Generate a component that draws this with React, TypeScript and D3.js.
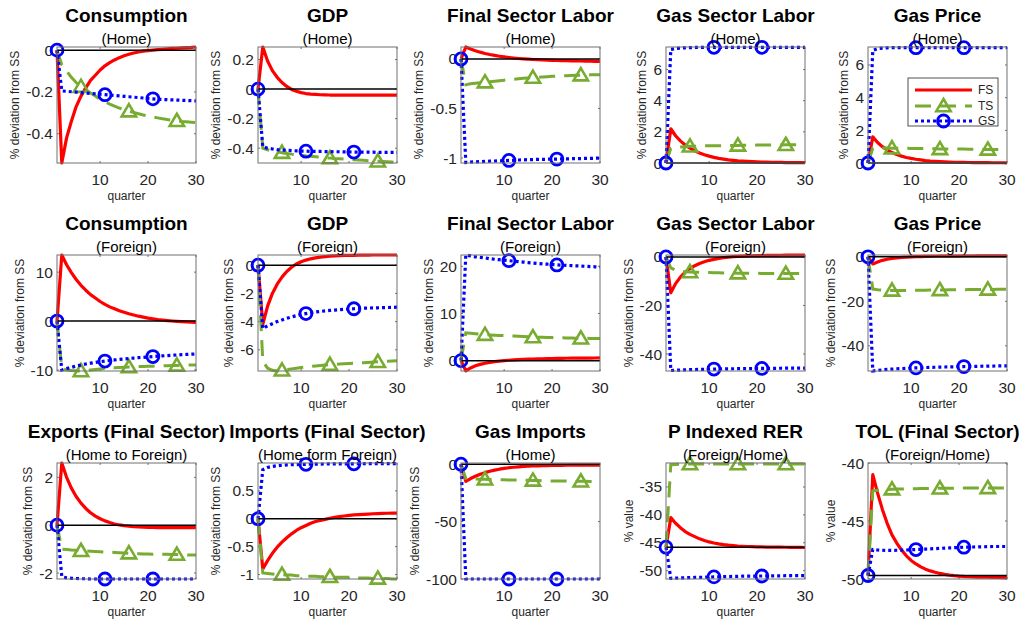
import React from 'react';
import * as d3 from 'd3';

// ---------- data ----------
const quarters = d3.range(1, 31);
const xTicks = [10, 20, 30];
const blueMarkerQuarters = [1, 11, 21];
const greenMarkerQuarters = [6, 16, 26];
const legendLabels = ['FS', 'TS', 'GS'];

const consHomeFS = [0, -0.54, -0.42, -0.34, -0.27, -0.22, -0.18, -0.145, -0.12, -0.095, -0.075, -0.06, -0.047, -0.036, -0.027, -0.02, -0.014, -0.009, -0.005, -0.002, 0.0, 0.002, 0.004, 0.006, 0.008, 0.009, 0.011, 0.012, 0.013, 0.015];
const consHomeTS = [0, -0.07, -0.1, -0.13, -0.155, -0.175, -0.19, -0.205, -0.22, -0.235, -0.248, -0.258, -0.268, -0.277, -0.285, -0.292, -0.298, -0.304, -0.31, -0.315, -0.32, -0.324, -0.328, -0.332, -0.335, -0.338, -0.341, -0.343, -0.345, -0.347];
const consHomeGS = [0, -0.195, -0.197, -0.199, -0.201, -0.203, -0.205, -0.207, -0.209, -0.211, -0.213, -0.215, -0.217, -0.219, -0.221, -0.223, -0.225, -0.227, -0.229, -0.231, -0.233, -0.235, -0.236, -0.237, -0.238, -0.239, -0.24, -0.241, -0.242, -0.243];

const gdpHomeFS = [0, 0.285, 0.19, 0.125, 0.08, 0.045, 0.018, -0.002, -0.015, -0.024, -0.03, -0.034, -0.036, -0.038, -0.039, -0.04, -0.04, -0.04, -0.041, -0.041, -0.041, -0.041, -0.041, -0.041, -0.041, -0.041, -0.041, -0.041, -0.041, -0.041];
const gdpHomeTS = [0, -0.4, -0.41, -0.42, -0.425, -0.43, -0.435, -0.44, -0.444, -0.448, -0.452, -0.455, -0.458, -0.461, -0.464, -0.467, -0.47, -0.472, -0.474, -0.476, -0.478, -0.48, -0.482, -0.484, -0.486, -0.488, -0.49, -0.492, -0.494, -0.496];
const gdpHomeGS = [0, -0.39, -0.4, -0.405, -0.41, -0.412, -0.414, -0.416, -0.418, -0.419, -0.42, -0.421, -0.422, -0.422, -0.423, -0.423, -0.424, -0.424, -0.425, -0.425, -0.426, -0.426, -0.427, -0.427, -0.427, -0.428, -0.428, -0.428, -0.428, -0.428];

const labFinHomeFS = [0, 0.12, 0.1, 0.083, 0.068, 0.055, 0.044, 0.035, 0.027, 0.02, 0.014, 0.009, 0.004, 0.0, -0.003, -0.006, -0.008, -0.01, -0.012, -0.014, -0.016, -0.017, -0.018, -0.019, -0.02, -0.021, -0.022, -0.023, -0.024, -0.025];
const labFinHomeTS = [0, -0.26, -0.25, -0.245, -0.24, -0.235, -0.23, -0.225, -0.22, -0.215, -0.21, -0.205, -0.2, -0.196, -0.192, -0.188, -0.185, -0.182, -0.179, -0.176, -0.174, -0.172, -0.17, -0.168, -0.166, -0.164, -0.162, -0.161, -0.16, -0.159];
const labFinHomeGS = [0, -1.045, -1.04, -1.038, -1.036, -1.034, -1.032, -1.03, -1.028, -1.026, -1.024, -1.022, -1.02, -1.018, -1.016, -1.015, -1.014, -1.013, -1.012, -1.011, -1.01, -1.009, -1.008, -1.007, -1.006, -1.005, -1.004, -1.003, -1.002, -1.0];

const labGasHomeFS = [0, 2.2, 1.75, 1.42, 1.16, 0.95, 0.78, 0.64, 0.53, 0.44, 0.36, 0.3, 0.25, 0.2, 0.17, 0.14, 0.12, 0.1, 0.085, 0.07, 0.06, 0.05, 0.045, 0.04, 0.035, 0.03, 0.028, 0.025, 0.022, 0.02];
const labGasHomeTS = [0, 0.95, 1.0, 1.03, 1.05, 1.07, 1.08, 1.09, 1.1, 1.1, 1.11, 1.11, 1.12, 1.12, 1.13, 1.13, 1.14, 1.14, 1.14, 1.15, 1.15, 1.15, 1.16, 1.16, 1.16, 1.17, 1.17, 1.17, 1.18, 1.18];
const labGasHomeGS = [0, 7.3, 7.35, 7.38, 7.4, 7.41, 7.42, 7.42, 7.43, 7.43, 7.43, 7.43, 7.43, 7.43, 7.43, 7.43, 7.43, 7.43, 7.43, 7.43, 7.43, 7.43, 7.43, 7.43, 7.43, 7.43, 7.43, 7.43, 7.43, 7.43];

const gasPriceHomeFS = [0, 1.6, 1.25, 1.0, 0.8, 0.64, 0.52, 0.42, 0.34, 0.28, 0.23, 0.19, 0.15, 0.12, 0.1, 0.08, 0.065, 0.055, 0.045, 0.04, 0.035, 0.03, 0.025, 0.022, 0.02, 0.018, 0.016, 0.015, 0.014, 0.013];
const gasPriceHomeTS = [0, 0.9, 0.92, 0.92, 0.92, 0.91, 0.91, 0.9, 0.9, 0.89, 0.89, 0.88, 0.88, 0.87, 0.87, 0.86, 0.86, 0.86, 0.85, 0.85, 0.85, 0.84, 0.84, 0.84, 0.83, 0.83, 0.83, 0.82, 0.82, 0.82];
const gasPriceHomeGS = [0, 6.9, 7.0, 7.03, 7.05, 7.06, 7.06, 7.06, 7.06, 7.06, 7.06, 7.06, 7.06, 7.06, 7.06, 7.06, 7.06, 7.06, 7.06, 7.06, 7.06, 7.06, 7.06, 7.06, 7.06, 7.06, 7.06, 7.06, 7.06, 7.06];

const consForFS = [0, 13.5, 11.5, 9.9, 8.5, 7.3, 6.3, 5.4, 4.7, 4.0, 3.4, 2.9, 2.5, 2.1, 1.8, 1.5, 1.25, 1.0, 0.8, 0.6, 0.45, 0.3, 0.2, 0.1, 0.02, -0.05, -0.1, -0.15, -0.2, -0.25];
const consForTS = [0, -9.7, -10.0, -10.1, -10.15, -10.2, -10.1, -10.0, -9.9, -9.8, -9.7, -9.6, -9.55, -9.5, -9.45, -9.4, -9.35, -9.3, -9.27, -9.24, -9.21, -9.18, -9.15, -9.12, -9.09, -9.06, -9.03, -9.0, -8.98, -8.96];
const consForGS = [0, -10.0, -9.7, -9.45, -9.2, -8.98, -8.78, -8.6, -8.44, -8.3, -8.17, -8.05, -7.94, -7.84, -7.74, -7.65, -7.56, -7.48, -7.4, -7.32, -7.25, -7.18, -7.11, -7.05, -6.99, -6.93, -6.87, -6.82, -6.77, -6.72];

const gdpForFS = [0, -4.2, -2.9, -2.0, -1.35, -0.85, -0.45, -0.15, 0.08, 0.24, 0.36, 0.45, 0.52, 0.57, 0.61, 0.64, 0.66, 0.68, 0.69, 0.7, 0.7, 0.71, 0.71, 0.71, 0.72, 0.72, 0.72, 0.72, 0.72, 0.72];
const gdpForTS = [0, -6.8, -7.3, -7.45, -7.5, -7.45, -7.4, -7.35, -7.3, -7.25, -7.2, -7.17, -7.14, -7.11, -7.08, -7.05, -7.03, -7.01, -6.99, -6.97, -6.95, -6.93, -6.91, -6.89, -6.87, -6.85, -6.83, -6.81, -6.79, -6.77];
const gdpForGS = [0, -4.5, -4.3, -4.15, -4.0, -3.88, -3.77, -3.67, -3.58, -3.5, -3.43, -3.37, -3.32, -3.28, -3.24, -3.21, -3.18, -3.15, -3.13, -3.11, -3.09, -3.07, -3.05, -3.04, -3.03, -3.02, -3.01, -3.0, -2.99, -2.98];

const labFinForFS = [0, -2.15, -1.55, -1.1, -0.8, -0.55, -0.37, -0.22, -0.1, 0.0, 0.08, 0.15, 0.21, 0.26, 0.3, 0.34, 0.37, 0.4, 0.42, 0.44, 0.46, 0.48, 0.5, 0.51, 0.52, 0.53, 0.54, 0.55, 0.56, 0.57];
const labFinForTS = [0, 5.9, 5.8, 5.7, 5.6, 5.5, 5.45, 5.4, 5.35, 5.3, 5.25, 5.2, 5.15, 5.1, 5.05, 5.0, 4.97, 4.94, 4.91, 4.88, 4.85, 4.83, 4.81, 4.79, 4.77, 4.75, 4.73, 4.71, 4.69, 4.67];
const labFinForGS = [0, 22.4, 22.2, 22.0, 21.9, 21.8, 21.6, 21.5, 21.4, 21.3, 21.2, 21.1, 21.0, 20.9, 20.8, 20.7, 20.6, 20.5, 20.45, 20.4, 20.3, 20.25, 20.2, 20.15, 20.1, 20.05, 20.0, 19.95, 19.9, 19.85];

const labGasForFS = [0, -14.8, -11, -8.3, -6.3, -4.8, -3.6, -2.7, -2.0, -1.4, -1.0, -0.6, -0.3, -0.1, 0.1, 0.25, 0.35, 0.45, 0.5, 0.55, 0.6, 0.63, 0.66, 0.68, 0.7, 0.72, 0.73, 0.74, 0.75, 0.76];
const labGasForTS = [0, -4.5, -5.5, -5.9, -6.1, -6.2, -6.3, -6.35, -6.4, -6.45, -6.5, -6.55, -6.6, -6.62, -6.65, -6.68, -6.7, -6.72, -6.74, -6.76, -6.78, -6.8, -6.81, -6.82, -6.83, -6.84, -6.85, -6.86, -6.87, -6.88];
const labGasForGS = [0, -46.8, -46.7, -46.6, -46.5, -46.45, -46.4, -46.35, -46.3, -46.25, -46.2, -46.17, -46.14, -46.11, -46.08, -46.05, -46.02, -46.0, -45.98, -45.96, -45.94, -45.92, -45.9, -45.88, -45.86, -45.84, -45.82, -45.8, -45.79, -45.78];

const gasPriceForFS = [0, -3.2, -2.3, -1.6, -1.1, -0.75, -0.5, -0.3, -0.15, -0.05, 0.03, 0.1, 0.15, 0.2, 0.23, 0.26, 0.28, 0.3, 0.32, 0.33, 0.34, 0.35, 0.36, 0.37, 0.38, 0.38, 0.39, 0.39, 0.4, 0.4];
const gasPriceForTS = [0, -14.5, -14.8, -15.0, -15.1, -15.1, -15.1, -15.1, -15.1, -15.05, -15.05, -15.0, -15.0, -14.95, -14.95, -14.9, -14.9, -14.85, -14.85, -14.8, -14.8, -14.75, -14.75, -14.7, -14.7, -14.65, -14.65, -14.6, -14.6, -14.6];
const gasPriceForGS = [0, -51.3, -51.0, -50.8, -50.6, -50.45, -50.3, -50.2, -50.1, -50.0, -49.9, -49.82, -49.75, -49.68, -49.62, -49.56, -49.5, -49.45, -49.4, -49.35, -49.3, -49.26, -49.22, -49.18, -49.14, -49.1, -49.07, -49.04, -49.01, -49.0];

const exportsFS = [0, 2.6, 2.0, 1.55, 1.2, 0.92, 0.7, 0.52, 0.38, 0.27, 0.18, 0.11, 0.05, 0.01, -0.02, -0.04, -0.06, -0.07, -0.08, -0.09, -0.09, -0.1, -0.1, -0.1, -0.1, -0.1, -0.1, -0.1, -0.1, -0.1];
const exportsTS = [0, -1.0, -1.02, -1.04, -1.05, -1.07, -1.08, -1.09, -1.1, -1.11, -1.12, -1.13, -1.14, -1.15, -1.16, -1.17, -1.18, -1.19, -1.2, -1.2, -1.21, -1.21, -1.22, -1.22, -1.23, -1.23, -1.24, -1.24, -1.25, -1.25];
const exportsGS = [0, -2.15, -2.2, -2.22, -2.23, -2.24, -2.24, -2.25, -2.25, -2.25, -2.25, -2.25, -2.25, -2.25, -2.25, -2.25, -2.25, -2.25, -2.25, -2.25, -2.25, -2.25, -2.25, -2.25, -2.25, -2.25, -2.25, -2.25, -2.25, -2.25];

const importsFS = [0, -0.9, -0.75, -0.62, -0.51, -0.42, -0.34, -0.27, -0.21, -0.16, -0.12, -0.08, -0.05, -0.03, -0.01, 0.01, 0.025, 0.04, 0.05, 0.06, 0.07, 0.075, 0.08, 0.085, 0.09, 0.093, 0.096, 0.099, 0.1, 0.1];
const importsTS = [0, -0.97, -0.98, -0.99, -1.0, -1.0, -1.01, -1.01, -1.02, -1.02, -1.03, -1.03, -1.03, -1.04, -1.04, -1.04, -1.05, -1.05, -1.05, -1.05, -1.06, -1.06, -1.06, -1.06, -1.07, -1.07, -1.07, -1.07, -1.08, -1.08];
const importsGS = [0, 0.88, 0.92, 0.94, 0.95, 0.96, 0.965, 0.97, 0.972, 0.974, 0.976, 0.978, 0.98, 0.981, 0.982, 0.983, 0.984, 0.985, 0.985, 0.986, 0.986, 0.987, 0.987, 0.988, 0.988, 0.988, 0.989, 0.989, 0.989, 0.99];

const gasImportsFS = [0, -15, -12.5, -10.5, -8.8, -7.4, -6.2, -5.2, -4.4, -3.7, -3.1, -2.7, -2.3, -2.0, -1.8, -1.6, -1.45, -1.3, -1.2, -1.1, -1.05, -1.0, -0.95, -0.9, -0.88, -0.86, -0.84, -0.82, -0.8, -0.8];
const gasImportsTS = [0, -12.5, -12.8, -13.0, -13.1, -13.2, -13.3, -13.4, -13.5, -13.6, -13.7, -13.8, -13.9, -14.0, -14.1, -14.2, -14.3, -14.4, -14.5, -14.6, -14.65, -14.7, -14.75, -14.8, -14.85, -14.9, -14.95, -15.0, -15.05, -15.1];
const gasImportsGS = [0, -100, -100, -100, -100, -100, -100, -100, -100, -100, -100, -100, -100, -100, -100, -100, -100, -100, -100, -100, -100, -100, -100, -100, -100, -100, -100, -100, -100, -100];

const rerFS = [-45.8, -40.5, -41.5, -42.3, -43.0, -43.5, -43.9, -44.3, -44.6, -44.85, -45.05, -45.2, -45.33, -45.43, -45.51, -45.58, -45.63, -45.67, -45.7, -45.73, -45.75, -45.77, -45.78, -45.79, -45.8, -45.81, -45.82, -45.83, -45.84, -45.85];
const rerTS = [-45.8, -31.0, -30.95, -30.9, -30.9, -30.9, -30.9, -30.9, -30.9, -30.9, -30.9, -30.9, -30.9, -30.9, -30.9, -30.9, -30.9, -30.9, -30.9, -30.9, -30.9, -30.9, -30.9, -30.9, -30.9, -30.9, -30.9, -30.9, -30.9, -30.9];
const rerGS = [-45.8, -51.4, -51.35, -51.3, -51.28, -51.25, -51.22, -51.2, -51.18, -51.15, -51.12, -51.1, -51.08, -51.06, -51.04, -51.02, -51.0, -50.99, -50.98, -50.97, -50.96, -50.95, -50.94, -50.93, -50.92, -50.91, -50.9, -50.9, -50.9, -50.9];

const tolFS = [-49.7, -41.0, -42.6, -44.0, -45.2, -46.2, -46.9, -47.5, -48.0, -48.4, -48.7, -48.95, -49.15, -49.3, -49.42, -49.52, -49.6, -49.66, -49.71, -49.75, -49.78, -49.8, -49.82, -49.83, -49.84, -49.85, -49.86, -49.87, -49.88, -49.88];
const tolTS = [-49.7, -42.4, -42.35, -42.3, -42.28, -42.26, -42.25, -42.24, -42.23, -42.22, -42.21, -42.2, -42.2, -42.19, -42.19, -42.18, -42.18, -42.17, -42.17, -42.17, -42.16, -42.16, -42.16, -42.16, -42.15, -42.15, -42.15, -42.15, -42.15, -42.15];
const tolGS = [-49.7, -47.45, -47.5, -47.52, -47.53, -47.53, -47.52, -47.51, -47.5, -47.48, -47.46, -47.44, -47.42, -47.4, -47.38, -47.36, -47.34, -47.32, -47.3, -47.28, -47.26, -47.25, -47.24, -47.23, -47.22, -47.21, -47.2, -47.2, -47.2, -47.2];

const panelTitles = [
  'Consumption', 'GDP', 'Final Sector Labor', 'Gas Sector Labor', 'Gas Price',
  'Consumption', 'GDP', 'Final Sector Labor', 'Gas Sector Labor', 'Gas Price',
  'Exports (Final Sector)', 'Imports (Final Sector)', 'Gas Imports', 'P Indexed RER', 'TOL (Final Sector)',
];
const panelSubtitles = [
  '(Home)', '(Home)', '(Home)', '(Home)', '(Home)',
  '(Foreign)', '(Foreign)', '(Foreign)', '(Foreign)', '(Foreign)',
  '(Home to Foreign)', '(Home form Foreign)', '(Home)', '(Foreign/Home)', '(Foreign/Home)',
];
const devLabel = '% deviation from SS';
const valLabel = '% value';
const yLabels = [
  devLabel, devLabel, devLabel, devLabel, devLabel,
  devLabel, devLabel, devLabel, devLabel, devLabel,
  devLabel, devLabel, devLabel, valLabel, valLabel,
];
const yTickSets = [
  [-0.4, -0.2, 0], [-0.4, -0.2, 0, 0.2], [-1, -0.5, 0], [0, 2, 4, 6], [0, 2, 4, 6],
  [-10, 0, 10], [-6, -4, -2, 0], [0, 10, 20], [-40, -20, 0], [-40, -20, 0],
  [-2, 0, 2], [-1, -0.5, 0, 0.5], [-100, -50, 0], [-50, -45, -40, -35], [-50, -45, -40],
];
const yDomains = [
  [-0.54, 0.015], [-0.5, 0.285], [-1.05, 0.12], [0, 7.45], [0, 7.1],
  [-10.2, 13.5], [-7.5, 0.72], [-2.2, 22.4], [-47, 0.8], [-51.3, 0.8],
  [-2.25, 2.6], [-1.08, 1.0], [-100, 1], [-51.5, -30.7], [-50, -40],
];
const refValues = [0, 0, 0, 0, 0, 0, 0, 0, 0, 0, 0, 0, 0, -45.8, -49.7];

const seriesFS = [consHomeFS, gdpHomeFS, labFinHomeFS, labGasHomeFS, gasPriceHomeFS, consForFS, gdpForFS, labFinForFS, labGasForFS, gasPriceForFS, exportsFS, importsFS, gasImportsFS, rerFS, tolFS];
const seriesTS = [consHomeTS, gdpHomeTS, labFinHomeTS, labGasHomeTS, gasPriceHomeTS, consForTS, gdpForTS, labFinForTS, labGasForTS, gasPriceForTS, exportsTS, importsTS, gasImportsTS, rerTS, tolTS];
const seriesGS = [consHomeGS, gdpHomeGS, labFinHomeGS, labGasHomeGS, gasPriceHomeGS, consForGS, gdpForGS, labFinForGS, labGasForGS, gasPriceForGS, exportsGS, importsGS, gasImportsGS, rerGS, tolGS];

// ---------- style / layout ----------
const FONT = '"Liberation Sans", Arial, Helvetica, sans-serif';
const RED = '#ff0000';
const GREEN = '#77ac30';
const BLUE = '#0000ff';
const AXIS = '#707070';
const TEXT = '#262626';
const TICK_FS = 15.5;
const colLeft = [57, 258, 461, 666, 868];
const rowTop = [47, 255, 463];
const plotW = 139;
const plotH = 116;

let measureCtx: CanvasRenderingContext2D | null = null;
function textWidth(s: string, font: string): number {
  if (!measureCtx) {
    const c = document.createElement('canvas');
    measureCtx = c.getContext('2d');
  }
  if (!measureCtx) return s.length * 8.5;
  measureCtx.font = font;
  return measureCtx.measureText(s).width;
}

function fmt(v: number): string {
  return String(v);
}

const triPath = 'M0,-7L7.2,5.2L-7.2,5.2Z';

function Markers({ qs, vals, x, y, kind, color }: any) {
  return (
    <g>
      {qs.map((q: number) => {
        const cx = x(q);
        const cy = y(vals[q - 1]);
        return kind === 'circle' ? (
          <circle key={q} cx={cx} cy={cy} r={6} fill="none" stroke={color} strokeWidth={2.8} />
        ) : (
          <path key={q} d={triPath} transform={`translate(${cx},${cy})`} fill="none" stroke={color} strokeWidth={2.6} strokeLinejoin="miter" />
        );
      })}
    </g>
  );
}

function Panel({ i }: { i: number }) {
  const row = Math.floor(i / 5);
  const col = i % 5;
  const left = colLeft[col];
  const top = rowTop[row];
  const bottom = top + plotH;
  const right = left + plotW;
  const x = d3.scaleLinear().domain([1, 30]).range([left, right]);
  const y = d3.scaleLinear().domain(yDomains[i]).range([bottom, top]);
  const line = d3
    .line<number>()
    .x((_, k) => x(quarters[k]))
    .y((d) => y(d));
  const ticks = yTickSets[i];
  const tickFont = `${TICK_FS}px ${FONT}`;
  const maxW = d3.max(ticks, (t) => textWidth(fmt(t), tickFont)) || 0;
  const ylabX = left - 15 - maxW;
  const tl = 2;
  return (
    <g>
      <rect x={left} y={top} width={plotW} height={plotH} fill="#fff" />
      {xTicks.map((t) => (
        <g key={'xt' + t}>
          <line x1={x(t)} x2={x(t)} y1={bottom} y2={bottom - tl} stroke={AXIS} />
          <line x1={x(t)} x2={x(t)} y1={top} y2={top + tl} stroke={AXIS} />
          <text x={x(t)} y={bottom + 16} textAnchor="middle" dominantBaseline="central" fontSize={TICK_FS} fontFamily={FONT} fill={TEXT}>
            {t}
          </text>
        </g>
      ))}
      {ticks.map((t) => (
        <g key={'yt' + t}>
          <line x1={left} x2={left + tl} y1={y(t)} y2={y(t)} stroke={AXIS} />
          <line x1={right} x2={right - tl} y1={y(t)} y2={y(t)} stroke={AXIS} />
          <text x={left - 4} y={y(t)} textAnchor="end" dominantBaseline="central" fontSize={TICK_FS} fontFamily={FONT} fill={TEXT}>
            {fmt(t)}
          </text>
        </g>
      ))}
      <path d={line(seriesFS[i]) || ''} fill="none" stroke={RED} strokeWidth={3.2} strokeLinejoin="round" />
      <path d={line(seriesTS[i]) || ''} fill="none" stroke={GREEN} strokeWidth={3} strokeDasharray="16,9" />
      <Markers qs={greenMarkerQuarters} vals={seriesTS[i]} x={x} y={y} kind="tri" color={GREEN} />
      <path d={line(seriesGS[i]) || ''} fill="none" stroke={BLUE} strokeWidth={3.2} strokeDasharray="3,3" />
      <Markers qs={blueMarkerQuarters} vals={seriesGS[i]} x={x} y={y} kind="circle" color={BLUE} />
      <line x1={left} x2={right} y1={y(refValues[i])} y2={y(refValues[i])} stroke="#000" strokeWidth={1.5} />
      <rect x={left} y={top} width={plotW} height={plotH} fill="none" stroke={AXIS} strokeWidth={1} />
      <text x={(left + right) / 2} y={top - 32} textAnchor="middle" dominantBaseline="central" fontSize={19} fontWeight="bold" fontFamily={FONT} fill="#000">
        {panelTitles[i]}
      </text>
      <text x={(left + right) / 2} y={top - 9} textAnchor="middle" dominantBaseline="central" fontSize={15} fontFamily={FONT} fill="#000">
        {panelSubtitles[i]}
      </text>
      <text x={(left + right) / 2} y={bottom + 33} textAnchor="middle" dominantBaseline="central" fontSize={12} fontFamily={FONT} fill={TEXT}>
        quarter
      </text>
      <text
        transform={`translate(${ylabX},${(top + bottom) / 2}) rotate(-90)`}
        textAnchor="middle"
        dominantBaseline="central"
        fontSize={12}
        fontFamily={FONT}
        fill={TEXT}
      >
        {yLabels[i]}
      </text>
    </g>
  );
}

function Legend() {
  const lx = colLeft[4] + 40;
  const ly = rowTop[0] + 31;
  const w = 90;
  const h = 48;
  const rows = [ly + 12, ly + 28, ly + 43];
  const x1 = lx + 7;
  const x2 = lx + 64;
  const mx = (x1 + x2) / 2;
  return (
    <g>
      <rect x={lx} y={ly} width={w} height={h} fill="#fff" stroke={TEXT} strokeWidth={0.8} />
      <line x1={x1} x2={x2} y1={rows[0]} y2={rows[0]} stroke={RED} strokeWidth={3.2} />
      <line x1={x1} x2={x2} y1={rows[1]} y2={rows[1]} stroke={GREEN} strokeWidth={3} strokeDasharray="16,9" />
      <path d={triPath} transform={`translate(${mx},${rows[1]})`} fill="none" stroke={GREEN} strokeWidth={2.6} />
      <line x1={x1} x2={x2} y1={rows[2]} y2={rows[2]} stroke={BLUE} strokeWidth={3.2} strokeDasharray="3,3" />
      <circle cx={mx} cy={rows[2]} r={6} fill="none" stroke={BLUE} strokeWidth={2.8} />
      {legendLabels.map((l, k) => (
        <text key={l} x={x2 + 6} y={rows[k]} dominantBaseline="central" fontSize={12} fontFamily={FONT} fill={TEXT}>
          {l}
        </text>
      ))}
    </g>
  );
}

export default function App() {
  return (
    <svg width={1025} height={624} style={{ position: 'absolute', left: 0, top: 0, background: '#fff' }}>
      <rect x={0} y={0} width={1025} height={624} fill="#fff" />
      {panelTitles.map((_, i) => (
        <Panel key={i} i={i} />
      ))}
      <Legend />
    </svg>
  );
}
